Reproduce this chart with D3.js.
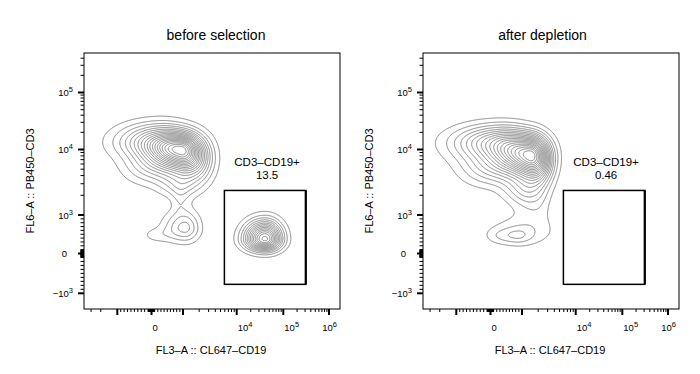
<!DOCTYPE html>
<html>
<head>
<meta charset="utf-8">
<script src="https://cdn.jsdelivr.net/npm/d3@7"></script>
<style>
  body { margin: 0; background: #fff; }
  text { font-family: "Liberation Sans", Arial, Helvetica, sans-serif; fill: #000; }
</style>
</head>
<body>
<script>
// ---- data ----
const panelTitles = ["before selection", "after depletion"];
const gateName = "CD3–CD19+";
const gatePercents = ["13.5", "0.46"];
const gateX = [5900, 310000];
const gateY = [-775, 2370];
const xLabel = "FL3–A :: CL647–CD19";
const yLabel = "FL6–A :: PB450–CD3";

const xMajor = [-1e3, 0, 1e3, 1e4, 1e5, 1e6];
const yMajor = [-1e3, 0, 1e3, 1e4, 1e5];
const xLabeled = [0, 1e4, 1e5, 1e6];
const yLabeled = [-1e3, 0, 1e3, 1e4, 1e5];

// populations: x, y (channel values), spread left/right/top/bottom (decades), h (peak height)
const beforeClusters = [
  { x: 937, y: 9480, l: 0.42, r: 0.26, t: 0.19, b: 0.23, h: 0.6 },
  { x: 270, y: 13500, l: 0.60, r: 0.46, t: 0.22, b: 0.21, h: 0.35 },
  { x: 1820, y: 6920, l: 0.26, r: 0.25, t: 0.25, b: 0.28, h: 0.25 },
  { x: -40, y: 5220, l: 0.42, r: 0.48, t: 0.18, b: 0.21, h: 0.12 },
  { x: 905, y: 2870, l: 0.31, r: 0.26, t: 0.18, b: 0.16, h: 0.12 },
  { x: 905, y: 1690, l: 0.12, r: 0.14, t: 0.18, b: 0.18, h: 0.05 },
  { x: 1090, y: 662, l: 0.31, r: 0.22, t: 0.21, b: 0.17, h: 0.19 },
  { x: 111, y: 480, l: 0.22, r: 0.22, t: 0.09, b: 0.10, h: 0.05 },
  { x: 40500, y: 377, l: 0.29, r: 0.24, t: 0.21, b: 0.14, h: 0.62 }
];
const afterClusters = [
  { x: 1410, y: 8240, l: 0.46, r: 0.26, t: 0.22, b: 0.25, h: 0.6 },
  { x: 270, y: 13000, l: 0.66, r: 0.48, t: 0.21, b: 0.23, h: 0.35 },
  { x: 2070, y: 5800, l: 0.26, r: 0.22, t: 0.25, b: 0.28, h: 0.22 },
  { x: -44, y: 4860, l: 0.45, r: 0.48, t: 0.18, b: 0.21, h: 0.12 },
  { x: 1090, y: 2410, l: 0.31, r: 0.26, t: 0.18, b: 0.18, h: 0.12 },
  { x: 1900, y: 1520, l: 0.30, r: 0.20, t: 0.25, b: 0.25, h: 0.06 },
  { x: 1090, y: 580, l: 0.55, r: 0.50, t: 0.21, b: 0.19, h: 0.07 },
  { x: 840, y: 460, l: 0.26, r: 0.22, t: 0.10, b: 0.10, h: 0.075 },
  { x: 206, y: 455, l: 0.18, r: 0.18, t: 0.09, b: 0.09, h: 0.03 }
];
const panelClusters = [beforeClusters, afterClusters];
const levelCount = 20;

// ---- layout ----
const W = 700, H = 374;
const plotW = 256, plotH = 256;
const panelLeft = [84, 423], plotTop = 53;
const titleX = [216, 542.5];

// biex-like display transform: linear inside +-1000, log outside
function biex(v) {
  const a = Math.abs(v);
  return a <= 1000 ? v / 1000 : Math.sign(v) * (1 + Math.log10(a / 1000));
}
const anchors = [-1e4, -1e3, 0, 1e3, 1e4, 1e5, 1e6];
const xs = d3.scaleLinear().domain(anchors.map(biex))
  .range([-21.7, 33.3, 67.5, 99, 152.7, 199.3, 245]);
const ys = d3.scaleLinear().domain(anchors.map(biex))
  .range([305, 240.3, 200.5, 162, 96.5, 39.5, -17.5]);
const X = v => xs(biex(v));
const Y = v => ys(biex(v));
const decX = X(1e5) - X(1e4), decY = Y(1e4) - Y(1e5);

// tick values: 1..9 x 10^n both signs
function tickValues(lo, hi) {
  const out = [0];
  for (let n = 1; n <= 6; n++) {
    for (let k = 1; k <= 9; k++) {
      const v = k * Math.pow(10, n);
      out.push(v, -v);
    }
  }
  return out.filter(v => v >= lo && v <= hi);
}
const xTicks = tickValues(-3500, 1.6e6);
const yTicks = tickValues(-1500, 4.5e5);

const svg = d3.select("body").append("svg")
  .attr("width", W).attr("height", H);

function powLabel(sel, v) {
  if (v === 0) { sel.text("0"); return; }
  sel.append("tspan").text((v < 0 ? "−" : "") + "10");
  sel.append("tspan").attr("dy", -4).style("font-size", "7.5px")
    .text(Math.round(Math.log10(Math.abs(v))));
}

panelClusters.forEach((clusters, p) => {
  const g = svg.append("g")
    .attr("transform", `translate(${panelLeft[p]},${plotTop})`);

  g.append("clipPath").attr("id", "clip" + p)
    .append("rect").attr("width", plotW).attr("height", plotH);

  // density grid on pixels (split-normal populations)
  const grid = new Float64Array(plotW * plotH);
  const comps = clusters.map(c => ({
    cx: X(c.x), cy: Y(c.y),
    l: c.l * decX, r: c.r * decX, t: c.t * decY, b: c.b * decY, h: c.h
  }));
  for (let j = 0; j < plotH; j++) {
    for (let i = 0; i < plotW; i++) {
      let s = 0;
      for (const c of comps) {
        const ddx = i + 0.5 - c.cx, ddy = j + 0.5 - c.cy;
        const dx = ddx / (ddx < 0 ? c.l : c.r);
        const dy = ddy / (ddy < 0 ? c.t : c.b);
        s += c.h * Math.exp(-0.5 * (dx * dx + dy * dy));
      }
      grid[j * plotW + i] = s;
    }
  }
  const max = d3.max(grid);
  const thresholds = d3.range(1, levelCount).map(k => k / levelCount * max);
  const contours = d3.contours().size([plotW, plotH]).thresholds(thresholds)(grid);

  g.append("g").attr("clip-path", `url(#clip${p})`)
    .selectAll("path").data(contours).join("path")
    .attr("d", d3.geoPath())
    .attr("fill", "none")
    .attr("stroke", "#7a7a7a")
    .attr("stroke-width", 0.9);

  // frame
  g.append("rect").attr("width", plotW).attr("height", plotH)
    .attr("fill", "none").attr("stroke", "#000").attr("stroke-width", 1);

  // x ticks
  g.append("g").selectAll("line").data(xTicks).join("line")
    .attr("x1", d => X(d)).attr("x2", d => X(d))
    .attr("y1", plotH).attr("y2", d => plotH + (xMajor.includes(d) ? 6 : 3))
    .attr("stroke", "#000")
    .attr("stroke-width", d => xMajor.includes(d) ? 2 : 1);

  // y ticks
  g.append("g").selectAll("line").data(yTicks).join("line")
    .attr("y1", d => Y(d)).attr("y2", d => Y(d))
    .attr("x1", 0).attr("x2", d => -(yMajor.includes(d) ? 6 : 3.5))
    .attr("stroke", "#000")
    .attr("stroke-width", d => yMajor.includes(d) ? 2 : 1);

  // x tick labels (start just right of tick, kept inside the frame)
  g.append("g").selectAll("text").data(xLabeled).join("text")
    .attr("y", plotH + 22)
    .style("font-size", "9.5px")
    .each(function (d) { powLabel(d3.select(this), d); })
    .attr("x", function (d) {
      const w = this.getComputedTextLength();
      return Math.min(X(d) + 1, plotW - 3 - w);
    });

  // y tick labels
  g.append("g").selectAll("text").data(yLabeled).join("text")
    .attr("x", d => d === 0 ? -17 : -11)
    .attr("y", d => Y(d) + 3.5)
    .attr("text-anchor", "end")
    .style("font-size", "9.5px")
    .each(function (d) { powLabel(d3.select(this), d); });

  // gate
  const gx0 = X(gateX[0]), gx1 = X(gateX[1]);
  const gy0 = Y(gateY[1]), gy1 = Y(gateY[0]);
  g.append("rect")
    .attr("x", gx0).attr("y", gy0)
    .attr("width", gx1 - gx0).attr("height", gy1 - gy0)
    .attr("fill", "none").attr("stroke", "#000").attr("stroke-width", 1.5);
  g.append("line")
    .attr("x1", gx1).attr("x2", gx1).attr("y1", gy0).attr("y2", gy1)
    .attr("stroke", "#000").attr("stroke-width", 2.2);

  const gc = (gx0 + gx1) / 2 + 2;
  g.append("text").attr("x", gc).attr("y", gy0 - 24)
    .attr("text-anchor", "middle").style("font-size", "11.5px").text(gateName);
  g.append("text").attr("x", gc).attr("y", gy0 - 11.5)
    .attr("text-anchor", "middle").style("font-size", "11.5px").text(gatePercents[p]);

  // axis titles
  g.append("text").attr("x", plotW / 2 - 1).attr("y", plotH + 45)
    .attr("text-anchor", "middle").style("font-size", "11px").text(xLabel);
  g.append("text")
    .attr("transform", `translate(-50.5,${128}) rotate(-90)`)
    .attr("text-anchor", "middle").style("font-size", "11px").text(yLabel);

  // panel title
  svg.append("text").attr("x", titleX[p]).attr("y", 40)
    .attr("text-anchor", "middle").style("font-size", "14px").text(panelTitles[p]);
});
</script>
</body>
</html>
